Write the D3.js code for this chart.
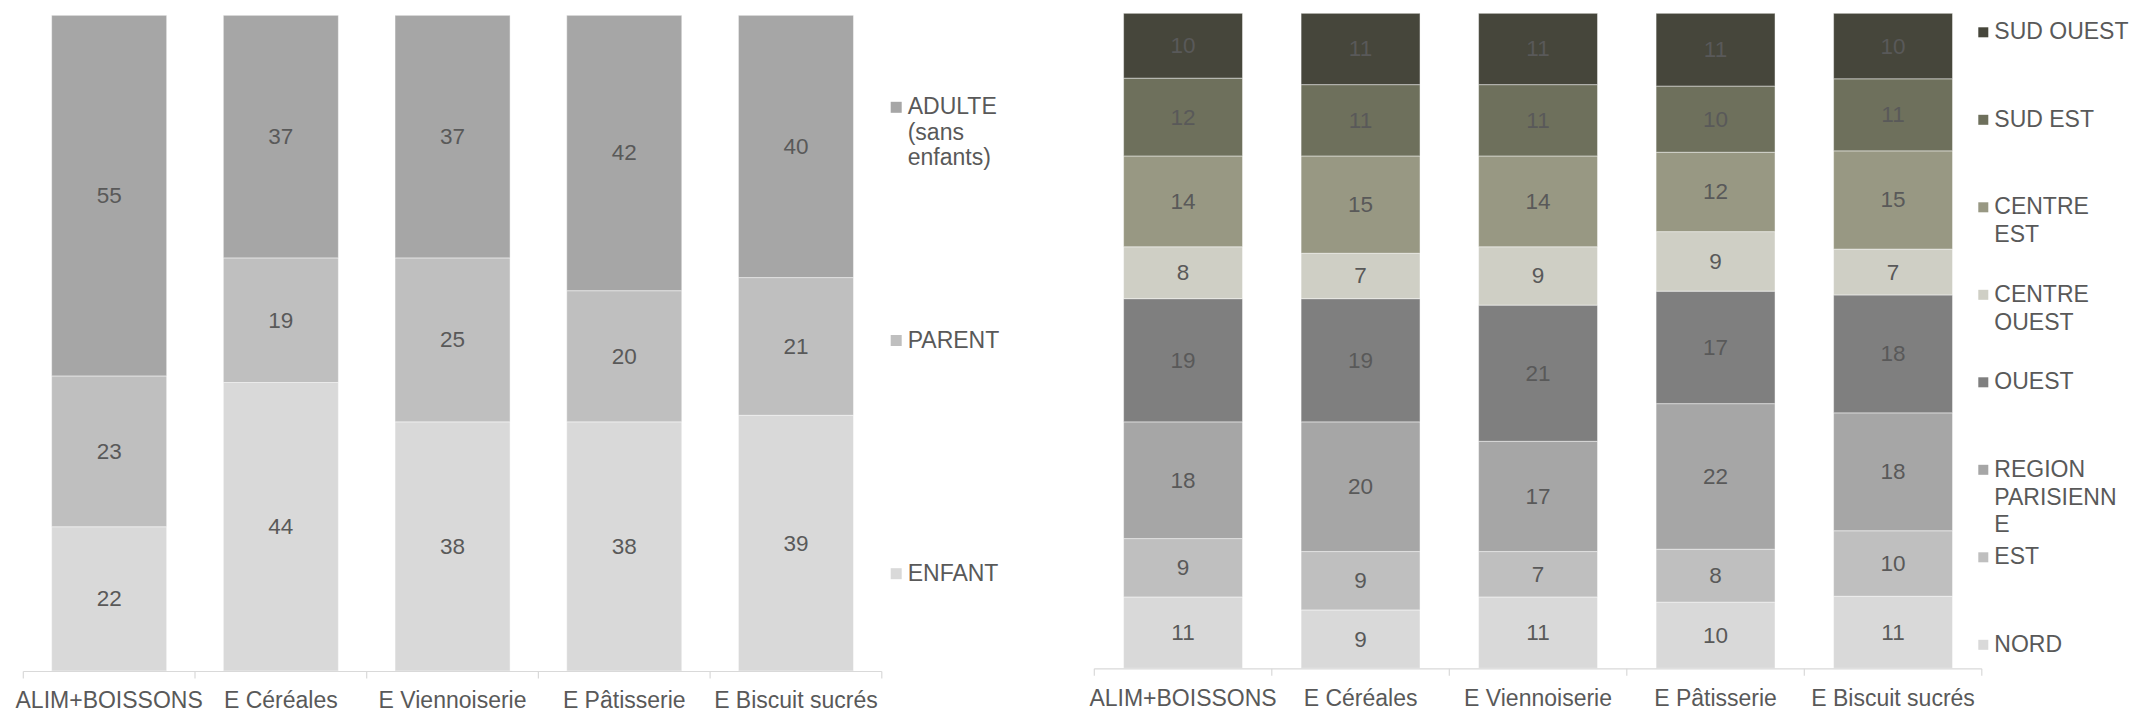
<!DOCTYPE html>
<html>
<head>
<meta charset="utf-8">
<script src="https://cdn.jsdelivr.net/npm/d3@7"></script>
<style>
  html, body { margin: 0; padding: 0; background: #ffffff; }
  svg { display: block; }
  text { font-family: "Liberation Sans", Arial, sans-serif; fill: #595959; }
</style>
</head>
<body>
<svg id="chart" width="2134" height="713"></svg>
<script>
// ---------- DATA ----------
const categories = ["ALIM+BOISSONS", "E Céréales", "E Viennoiserie", "E Pâtisserie", "E Biscuit sucrés"];

// Left chart (bottom to top)
const ageSeries = ["ENFANT", "PARENT", "ADULTE (sans enfants)"];
const ageLegendLines = [["ENFANT"], ["PARENT"], ["ADULTE", "(sans", "enfants)"]];
const enfant = [22, 44, 38, 38, 39];
const parent = [23, 19, 25, 20, 21];
const adulte = [55, 37, 37, 42, 40];
const ageColors = ["#d9d9d9", "#bfbfbf", "#a6a6a6"];

// Right chart (bottom to top)
const regionSeries = ["NORD", "EST", "REGION PARISIENNE", "OUEST", "CENTRE OUEST", "CENTRE EST", "SUD EST", "SUD OUEST"];
const regionLegendLines = [["NORD"], ["EST"], ["REGION", "PARISIENN", "E"], ["OUEST"], ["CENTRE", "OUEST"], ["CENTRE", "EST"], ["SUD EST"], ["SUD OUEST"]];
const nord = [11, 9, 11, 10, 11];
const est = [9, 9, 7, 8, 10];
const regionParisienne = [18, 20, 17, 22, 18];
const ouest = [19, 19, 21, 17, 18];
const centreOuest = [8, 7, 9, 9, 7];
const centreEst = [14, 15, 14, 12, 15];
const sudEst = [12, 11, 11, 10, 11];
const sudOuest = [10, 11, 11, 11, 10];
const regionColors = ["#d9d9d9", "#bfbfbf", "#a6a6a6", "#7f7f7f", "#cfcfc5", "#989883", "#6e705c", "#46463b"];

// ---------- DRAW ----------
const svg = d3.select("#chart");

function drawChart(cfg) {
  const { x0, x1, yTop, yBase, series, values, colors, legendLines,
          legX, legY0, legStep, legSq, legLineH, labelBaseline } = cfg;

  const rows = categories.map((c, i) => {
    const r = { cat: c };
    series.forEach((s, j) => r[s] = values[j][i]);
    return r;
  });

  const stack = d3.stack().keys(series).offset(d3.stackOffsetExpand);
  const stacked = stack(rows);

  const x = d3.scaleBand().domain(categories).range([x0, x1])
    .paddingInner(0.33).paddingOuter(0.165);
  const y = d3.scaleLinear().domain([0, 1]).range([yBase, yTop]);

  const g = svg.append("g");

  const layers = g.selectAll("g.layer").data(stacked).join("g")
    .attr("class", "layer")
    .attr("fill", (d, i) => colors[i]);

  layers.selectAll("rect").data(d => d.map(p => ({ p, key: d.key, cat: p.data.cat })))
    .join("rect")
    .attr("x", d => x(d.cat))
    .attr("width", x.bandwidth())
    .attr("y", d => y(d.p[1]))
    .attr("height", d => y(d.p[0]) - y(d.p[1]))
    .attr("stroke", "#ffffff")
    .attr("stroke-opacity", 0.45)
    .attr("stroke-width", 1);

  layers.selectAll("text").data(d => d.map(p => ({ p, key: d.key, cat: p.data.cat })))
    .join("text")
    .attr("x", d => x(d.cat) + x.bandwidth() / 2)
    .attr("y", d => (y(d.p[0]) + y(d.p[1])) / 2)
    .attr("text-anchor", "middle")
    .attr("dominant-baseline", "central")
    .attr("font-size", "22.5px")
    .style("fill", "#595959")
    .text(d => d.p.data[d.key]);

  // Axis
  const axisG = g.append("g").attr("transform", `translate(0,${yBase})`);
  axisG.append("line")
    .attr("x1", x0).attr("x2", x1).attr("y1", 0.5).attr("y2", 0.5)
    .attr("stroke", "#d9d9d9").attr("stroke-width", 1.2);
  const tickPos = categories.map(c => x(c) - x.step() * 0.165).concat([x1]);
  axisG.selectAll("line.tick").data(tickPos).join("line")
    .attr("class", "tick")
    .attr("x1", d => d).attr("x2", d => d)
    .attr("y1", 0.5).attr("y2", 7.5)
    .attr("stroke", "#d9d9d9").attr("stroke-width", 1.2);
  axisG.selectAll("text").data(categories).join("text")
    .attr("x", d => x(d) + x.bandwidth() / 2)
    .attr("y", labelBaseline - yBase)
    .attr("text-anchor", "middle")
    .attr("font-size", "23px")
    .text(d => d);

  // Legend (top entry first = last series)
  const legG = g.append("g");
  const order = series.map((s, i) => i).reverse();
  order.forEach((si, k) => {
    const by = legY0 + k * legStep;
    legG.append("rect")
      .attr("x", legX).attr("y", by - 8 - legSq / 2 + 1)
      .attr("width", legSq).attr("height", legSq)
      .attr("fill", colors[si]);
    const t = legG.append("text")
      .attr("x", legX + legSq + 6)
      .attr("y", by)
      .attr("font-size", "23px");
    legendLines[si].forEach((ln, li) => {
      t.append("tspan")
        .attr("x", legX + legSq + 6)
        .attr("dy", li === 0 ? 0 : legLineH)
        .text(ln);
    });
  });
}

drawChart({
  x0: 23.3, x1: 881.8, yTop: 15.3, yBase: 671,
  series: ageSeries, values: [enfant, parent, adulte], colors: ageColors,
  legendLines: ageLegendLines,
  legX: 890.7, legY0: 114.3, legStep: 233.2, legSq: 11, legLineH: 25.5,
  labelBaseline: 708
});

drawChart({
  x0: 1094.3, x1: 1981.8, yTop: 13.3, yBase: 668.3,
  series: regionSeries,
  values: [nord, est, regionParisienne, ouest, centreOuest, centreEst, sudEst, sudOuest],
  colors: regionColors,
  legendLines: regionLegendLines,
  legX: 1978.3, legY0: 39.3, legStep: 87.5, legSq: 10, legLineH: 27.8,
  labelBaseline: 706
});
</script>
</body>
</html>
